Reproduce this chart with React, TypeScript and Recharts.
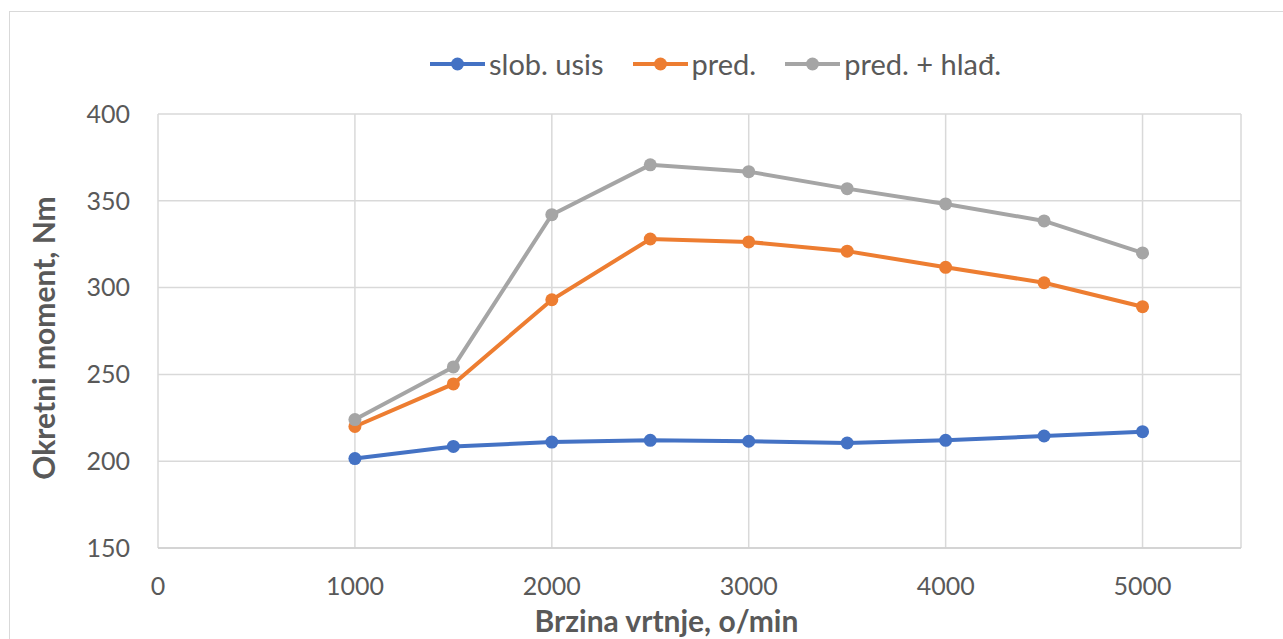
// Okretni moment vs. brzina vrtnje -- recharts line chart.

import { CartesianGrid, Line, LineChart, XAxis, YAxis } from "recharts";

const speeds = [1000, 1500, 2000, 2500, 3000, 3500, 4000, 4500, 5000];
const slobUsis = [201.5, 208.5, 211, 212, 211.5, 210.5, 212, 214.5, 217];
const pred = [220, 244.5, 293, 328, 326.3, 321, 311.7, 302.8, 289];
const predHlad = [224, 254.3, 342, 370.7, 366.8, 357, 348.2, 338.4, 320];

const xTicks = [0, 1000, 2000, 3000, 4000, 5000];
const yTicks = [150, 200, 250, 300, 350, 400];

const series = [
	{ key: "slob", name: "slob. usis", color: "#4472C4", values: slobUsis },
	{ key: "pred", name: "pred.", color: "#ED7D31", values: pred },
	{ key: "hlad", name: "pred. + hlađ.", color: "#A5A5A5", values: predHlad },
];

const data = speeds.map((x, i) => {
	const row: Record<string, number> = { x };
	for (const s of series) row[s.key] = s.values[i];
	return row;
});

const FONT = "Lato, 'Open Sans', sans-serif";
const TEXT = "#595959";

function LegendRow() {
	return (
		<div
			style={{
				position: "absolute",
				top: 44,
				left: 430,
				height: 40,
				display: "flex",
				alignItems: "center",
				fontFamily: FONT,
				fontSize: 29,
				color: TEXT,
				whiteSpace: "nowrap",
			}}
		>
			{series.map((s) => (
				<div key={s.key} style={{ display: "flex", alignItems: "center", marginRight: 29 }}>
					<svg width={55} height={16} style={{ marginRight: 4 }}>
						<line x1={0} y1={8} x2={55} y2={8} stroke={s.color} strokeWidth={4} />
						<circle cx={27.5} cy={8} r={6.5} fill={s.color} />
					</svg>
					<span style={{ lineHeight: "40px" }}>{s.name}</span>
				</div>
			))}
		</div>
	);
}

function YTitle() {
	return (
		<text
			x={43}
			y={338}
			transform="rotate(-90, 43, 338)"
			textAnchor="middle"
			dominantBaseline="central"
			fill={TEXT}
			fontSize={30}
			fontWeight={700}
			fontFamily={FONT}
		>
			Okretni moment, Nm
		</text>
	);
}

export default function App() {
	return (
		<div
			style={{
				position: "absolute",
				left: 0,
				top: 0,
				width: 1283,
				height: 639,
				overflow: "hidden",
				background: "#fff",
			}}
		>
			<div
				style={{
					position: "absolute",
					left: 9,
					top: 11,
					width: 1320,
					height: 700,
					border: "1.5px solid #d9d9d9",
				}}
			/>
			<LegendRow />
			<div style={{ position: "absolute", left: 0, top: 0 }}>
				<LineChart width={1283} height={639} data={data} margin={{ top: 114, right: 42, bottom: 0, left: 0 }}>
					<CartesianGrid stroke="#d9d9d9" strokeWidth={1.5} />
					<XAxis
						dataKey="x"
						type="number"
						domain={[0, 5500]}
						ticks={xTicks}
						height={91}
						tickLine={false}
						tickMargin={23}
						axisLine={{ stroke: "#cfcfcf", strokeWidth: 1.5 }}
						tick={{ fill: TEXT, fontSize: 25, fontFamily: FONT }}
						label={{
							value: "Brzina vrtnje, o/min",
							position: "insideBottom",
							offset: 7,
							dx: -33,
							fill: TEXT,
							fontSize: 30,
							fontWeight: 700,
							fontFamily: FONT,
						}}
					/>
					<YAxis
						type="number"
						domain={[150, 400]}
						ticks={yTicks}
						width={158}
						tickLine={false}
						axisLine={false}
						tickMargin={22}
						tick={{ fill: TEXT, fontSize: 25, fontFamily: FONT }}
						label={{ content: () => <YTitle /> }}
					/>
					{series.map((s) => (
						<Line
							key={s.key}
							dataKey={s.key}
							name={s.name}
							type="linear"
							stroke={s.color}
							strokeWidth={4}
							dot={{ r: 6.5, fill: s.color, stroke: s.color, strokeWidth: 0 }}
							activeDot={false}
							isAnimationActive={false}
						/>
					))}
				</LineChart>
			</div>
		</div>
	);
}
